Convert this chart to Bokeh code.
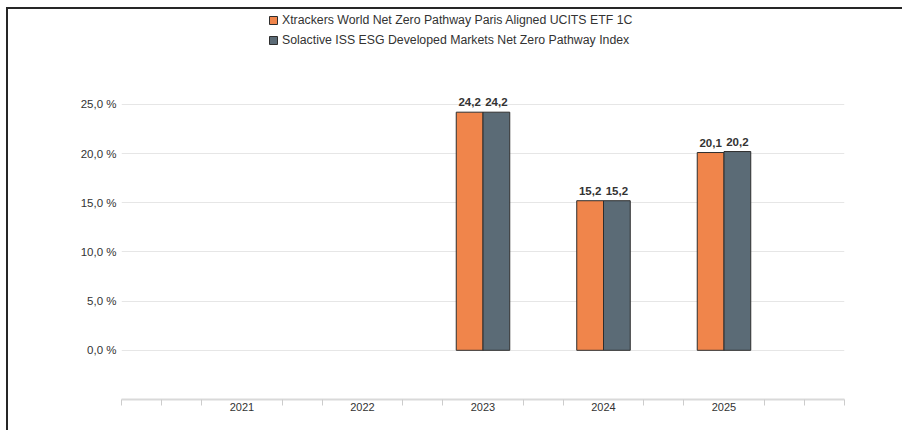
import math
from bokeh.plotting import figure
from bokeh.models import (ColumnDataSource, FixedTicker, CustomJSTickFormatter,
                          Legend, LegendItem, Range1d)
from bokeh.core.properties import value
from bokeh.embed import file_html
from bokeh.resources import INLINE

# ---- data ----
years = [2021, 2022, 2023, 2024, 2025]
etf_name = "Xtrackers World Net Zero Pathway Paris Aligned UCITS ETF 1C"
idx_name = "Solactive ISS ESG Developed Markets Net Zero Pathway Index"
etf_vals = [None, None, 24.2, 15.2, 20.1]
idx_vals = [None, None, 24.2, 15.2, 20.2]
y_ticks = [0, 5, 10, 15, 20, 25]

FONT = "Liberation Sans"
ORANGE = "#f0854b"
GREY = "#5b6b76"
OUTLINE = "#2e2e2e"

W, H = 896, 423
LEFT, RIGHT, TOP, BOTTOM = 113, 60, 0, 33
frame_h = H - TOP - BOTTOM  # px
px_per_pct = 49.2 / 5.0
y_start = -5.0
y_end = y_start + frame_h / px_per_pct

p = figure(width=W, height=H, output_backend="svg", toolbar_location=None,
           x_range=Range1d(2020, 2026), y_range=Range1d(y_start, y_end),
           min_border_left=LEFT, min_border_right=RIGHT,
           min_border_top=TOP, min_border_bottom=BOTTOM)
p.styles = {"border-left": "2px solid #262626", "border-top": "2px solid #262626",
            "margin-left": "6px", "margin-top": "7px"}
p.outline_line_color = None
p.background_fill_color = "white"
p.border_fill_color = "white"

dodge = 0.111
bw = 0.222

def build(vals, shift):
    xs, tops, labels = [], [], []
    for yr, v in zip(years, vals):
        if v is None or (isinstance(v, float) and math.isnan(v)):
            continue
        xs.append(yr + shift)
        tops.append(v)
        labels.append(f"{v:.1f}".replace(".", ","))
    return ColumnDataSource(dict(x=xs, top=tops, label=labels))

src_etf = build(etf_vals, -dodge)
src_idx = build(idx_vals, dodge)

r_etf = p.vbar(x="x", top="top", bottom=0, width=bw, source=src_etf,
               fill_color=ORANGE, line_color=OUTLINE, line_width=1)
r_idx = p.vbar(x="x", top="top", bottom=0, width=bw, source=src_idx,
               fill_color=GREY, line_color=OUTLINE, line_width=1)

for s in (src_etf, src_idx):
    p.text(x="x", y="top", text="label", source=s, y_offset=-6,
           text_align="center", text_baseline="bottom",
           text_font=value(FONT), text_font_style="bold",
           text_font_size="11.5px", text_color="#333333")

# y axis
p.yaxis.ticker = FixedTicker(ticks=y_ticks)
p.yaxis.formatter = CustomJSTickFormatter(
    code="return tick.toFixed(1).replace('.', ',') + ' %';")
p.yaxis.axis_line_color = None
p.yaxis.major_tick_line_color = None
p.yaxis.minor_tick_line_color = None
p.yaxis.major_tick_out = 0
p.yaxis.major_tick_in = 0
p.yaxis.major_label_standoff = 5
p.yaxis.major_label_text_font = FONT
p.yaxis.major_label_text_font_size = "11.5px"
p.yaxis.major_label_text_color = "#333333"
p.ygrid.ticker = FixedTicker(ticks=y_ticks)
p.ygrid.grid_line_color = "#e6e6e6"
p.ygrid.grid_line_width = 1.2
p.xgrid.grid_line_color = None

# x axis
minor = []
for k in range(0, 19):
    t = 2020 + k / 3.0
    if k % 3 == 0 and k not in (0, 18):
        continue
    minor.append(t)
p.xaxis.ticker = FixedTicker(ticks=years, minor_ticks=minor)
p.xaxis.formatter = CustomJSTickFormatter(code="return tick.toFixed(0);")
p.xaxis.axis_line_color = "#d9d9d9"
p.xaxis.axis_line_width = 2
p.xaxis.major_tick_line_color = None
p.xaxis.major_tick_out = 0
p.xaxis.major_tick_in = 0
p.xaxis.minor_tick_line_color = "#cccccc"
p.xaxis.minor_tick_in = 0
p.xaxis.minor_tick_out = 6
p.xaxis.major_label_standoff = -3
p.xaxis.major_label_text_font = FONT
p.xaxis.major_label_text_font_size = "11px"
p.xaxis.major_label_text_color = "#333333"

legend = Legend(items=[LegendItem(label=etf_name, renderers=[r_etf]),
                       LegendItem(label=idx_name, renderers=[r_idx])],
                location=(147, frame_h - 38), orientation="vertical",
                glyph_width=10, glyph_height=10, label_height=14,
                spacing=6, padding=0, margin=0, label_standoff=4,
                label_text_font=FONT, label_text_font_size="12.3px",
                label_text_color="#333333",
                border_line_color=None, background_fill_alpha=0)
p.add_layout(legend)

open("out.html", "w").write(file_html(p, INLINE))
